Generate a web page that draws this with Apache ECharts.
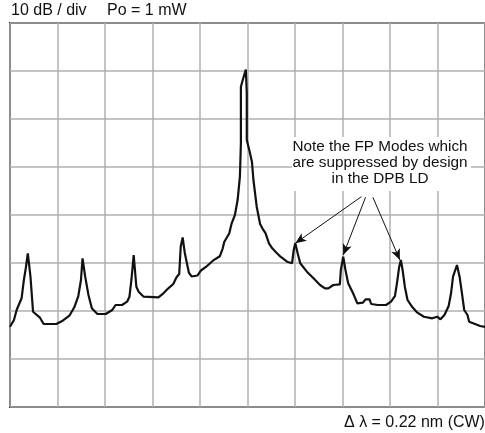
<!DOCTYPE html>
<html>
<head>
<meta charset="utf-8">
<script src="https://cdn.jsdelivr.net/npm/echarts@6/dist/echarts.min.js"></script>
<style>html,body{margin:0;padding:0;background:#fff}#c{width:485px;height:433px}</style>
</head>
<body>
<div id="c"></div>
<script>
// x in divisions (0.22 nm / div), y in dBm (10 dB / div, top = 0 dBm = 1 mW)
const xDiv = [0,0.083,0.14,0.244,0.292,0.333,0.375,0.431,0.485,0.625,0.708,0.973,1.11,1.25,1.354,1.438,1.494,1.527,1.583,1.652,1.723,1.84,2.015,2.152,2.223,2.36,2.465,2.515,2.556,2.604,2.66,2.708,2.813,3.125,3.229,3.333,3.4375,3.506,3.5625,3.594,3.635,3.681,3.765,3.823,3.948,4.021,4.131,4.271,4.417,4.479,4.51,4.615,4.667,4.735,4.792,4.84,4.861,4.861,4.91,4.965,4.985,4.985,5.042,5.094,5.125,5.194,5.265,5.313,5.381,5.452,5.521,5.59,5.694,5.833,5.9375,5.973,6.006,6.056,6.11,6.25,6.39,6.527,6.631,6.702,6.806,6.944,6.965,7.015,7.0625,7.119,7.223,7.3125,7.431,7.485,7.569,7.604,7.744,7.917,8.021,8.104,8.146,8.194,8.229,8.265,8.3125,8.369,8.473,8.577,8.715,8.89,8.994,9.0625,9.146,9.235,9.285,9.327,9.41,9.465,9.515,9.5625,9.631,9.667,9.79,9.896,10];
const powerDbm = [-63.27,-61.88,-59.79,-57.35,-53.54,-51.04,-47.98,-52.85,-60.15,-61.31,-62.71,-62.71,-62.02,-60.98,-59.23,-56.88,-53.54,-49.02,-52.85,-56.67,-59.44,-60.63,-60.63,-59.79,-58.75,-58.75,-58.06,-57.02,-53.54,-48.33,-54.94,-55.98,-57.02,-57.15,-56.31,-55.27,-54.38,-52.98,-52.29,-46.6,-44.69,-47.98,-51.98,-52.81,-52.6,-51.56,-50.77,-49.52,-48.6,-46.94,-45.63,-43.85,-41.73,-40,-36.88,-32.02,-25.06,-13.27,-11.52,-9.69,-14.65,-24.38,-26.67,-28.96,-32.71,-38.27,-41.88,-42.77,-43.81,-45.9,-46.94,-47.65,-48.69,-49.73,-50.06,-47.29,-45.9,-47.98,-50.06,-51.81,-53.19,-54.58,-55.27,-55.27,-54.58,-54.44,-51.46,-48.69,-51.46,-54.23,-56.31,-58.4,-58.27,-57.56,-57.56,-58.54,-58.75,-58.75,-58.06,-56.88,-54.23,-50.77,-49.38,-51.46,-54.94,-57.71,-59.23,-60.35,-61.19,-61.52,-61.19,-61.73,-60.83,-58.96,-56.31,-52.85,-50.42,-52.85,-56.31,-59.79,-60.83,-62.23,-62.71,-63.13,-63.3];
// annotation arrows: start and tip points in data units
const arrowStarts = [[7.396,-36.19],[7.485,-36.31],[7.64,-36.31]];
const arrowTips = [[6.006,-45.9],[7.015,-48.33],[8.208,-49.38]];
const scaleText = '10 dB / div';
const powerText = 'Po = 1 mW';
const noteLines = ['Note the FP Modes which','are suppressed by design','in the DPB LD'];
const spanText = '\u0394 \u03bb = 0.22 nm (CW)';

const chart = echarts.init(document.getElementById('c'), null, {renderer:'canvas'});
const FONT = '"Liberation Sans", Arial, sans-serif';
const data = xDiv.map((x,i)=>[x,powerDbm[i]]);
chart.setOption({
  animation:false,
  backgroundColor:'#fff',
  grid:{left:10,top:23,width:480,height:384,show:true,borderColor:'#222',borderWidth:2,backgroundColor:'transparent'},
  xAxis:{type:'value',min:0,max:10,interval:1,axisLabel:{show:false},axisTick:{show:false},
    axisLine:{show:false},splitLine:{show:true,lineStyle:{color:'#b0b0b0',width:1.5}}},
  yAxis:{type:'value',min:-80,max:0,interval:10,axisLabel:{show:false},axisTick:{show:false},
    axisLine:{show:false},splitLine:{show:true,lineStyle:{color:'#b0b0b0',width:1.5}}},
  graphic:[
    {type:'text',x:11,y:3,style:{text:scaleText,font:'16px '+FONT,fill:'#111'}},
    {type:'text',x:107,y:3,style:{text:powerText,font:'16px '+FONT,fill:'#111'}},
    {type:'text',x:344,y:415,style:{text:spanText,font:'16px '+FONT,fill:'#111'}},
    {type:'rect',shape:{x:292,y:137,width:179,height:54},style:{fill:'#fff'},z:5},
    {type:'text',x:380,y:139,z:6,style:{text:noteLines.join('\n'),font:'15.3px '+FONT,fill:'#111',align:'center',lineHeight:16}}
  ],
  series:[{
    type:'line',data:data,showSymbol:false,smooth:false,
    lineStyle:{color:'#111',width:2.2},z:3,
    markLine:{silent:true,symbol:['none','arrow'],symbolSize:[7,11],
      lineStyle:{color:'#111',width:1,type:'solid'},label:{show:false},
      data:arrowStarts.map((s,i)=>[{coord:s},{coord:arrowTips[i]}])}
  }]
});
</script>
</body>
</html>
